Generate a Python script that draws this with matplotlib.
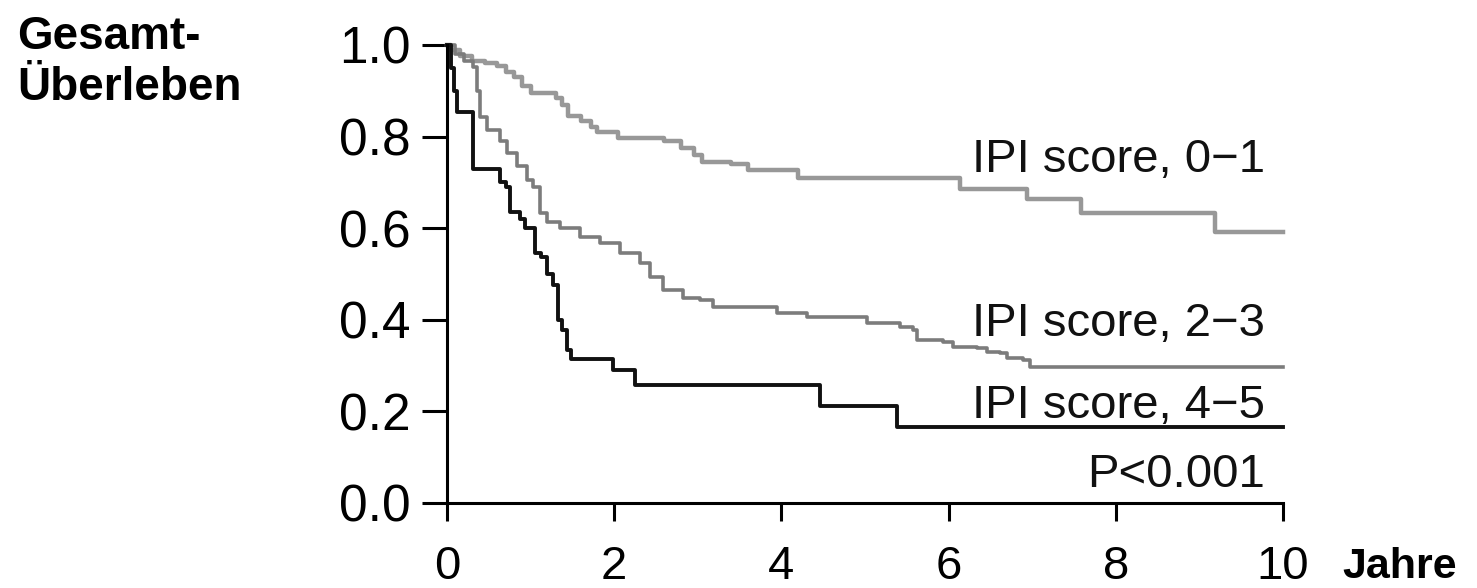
# -*- coding: utf-8 -*-
"""
Kaplan-Meier style overall survival by IPI score.
"""

import matplotlib
matplotlib.use('Agg')
import matplotlib.pyplot as plt

plt.rcParams['font.family'] = ['Liberation Sans', 'DejaVu Sans']

## Curve data (years, survival fraction)
time_01 = [0, 0.05, 0.15, 0.3, 0.45, 0.6, 0.7, 0.8, 0.9, 1.0, 1.3, 1.38, 1.45,
           1.6, 1.72, 1.8, 2.05, 2.6, 2.8, 2.95, 3.05, 3.4, 3.6, 4.2, 6.14,
           6.94, 7.58, 9.19, 10.0]
surv_01 = [1.0, 0.99, 0.975, 0.965, 0.96, 0.955, 0.94, 0.93, 0.91, 0.895,
           0.885, 0.87, 0.845, 0.835, 0.82, 0.81, 0.797, 0.79, 0.775, 0.76,
           0.745, 0.74, 0.727, 0.71, 0.686, 0.664, 0.633, 0.592, 0.592]

time_23 = [0, 0.1, 0.2, 0.31, 0.36, 0.39, 0.48, 0.63, 0.72, 0.84, 0.96, 1.03,
           1.11, 1.2, 1.35, 1.59, 1.83, 2.07, 2.31, 2.43, 2.58, 2.82, 3.03,
           3.18, 3.95, 4.31, 5.02, 5.42, 5.57, 5.62, 5.93, 6.05, 6.34, 6.46,
           6.61, 6.7, 6.89, 6.97, 10.0]
surv_23 = [1.0, 0.98, 0.965, 0.952, 0.9, 0.843, 0.814, 0.79, 0.765, 0.735,
           0.705, 0.69, 0.633, 0.614, 0.6, 0.58, 0.568, 0.546, 0.524, 0.493,
           0.465, 0.448, 0.443, 0.427, 0.415, 0.406, 0.393, 0.384, 0.378,
           0.356, 0.352, 0.341, 0.338, 0.33, 0.328, 0.317, 0.312, 0.296, 0.296]

time_45 = [0, 0.05, 0.08, 0.12, 0.31, 0.63, 0.7, 0.75, 0.87, 0.93, 1.05, 1.12,
           1.2, 1.27, 1.33, 1.38, 1.43, 1.48, 1.99, 2.25, 4.46, 5.38, 10.0]
surv_45 = [1.0, 0.95, 0.9, 0.854, 0.73, 0.70, 0.69, 0.635, 0.62, 0.60, 0.546,
           0.537, 0.50, 0.476, 0.40, 0.378, 0.334, 0.315, 0.29, 0.258, 0.212,
           0.165, 0.165]

# Labels next to the curves
curve_labels = ['IPI score, 0\u22121', 'IPI score, 2\u22123', 'IPI score, 4\u22125']
label_y = [0.723, 0.365, 0.186]
p_text = 'P<0.001'
x_ticks = [0, 2, 4, 6, 8, 10]
y_ticks = [0.0, 0.2, 0.4, 0.6, 0.8, 1.0]

## Create figure and axes in pixel-matched position
fig_ure = plt.figure(figsize=(14.77, 5.88), dpi=100)
ax = fig_ure.add_axes([447/1477, 1 - 503/588, 836/1477, 458/588])

ax.plot(time_01, surv_01, drawstyle='steps-post', color='#989898', linewidth=3.2,
        clip_on=False)
ax.plot(time_23, surv_23, drawstyle='steps-post', color='#7c7c7c', linewidth=2.6,
        clip_on=False)
ax.plot(time_45, surv_45, drawstyle='steps-post', color='#111111', linewidth=2.8,
        clip_on=False)

# Curve labels, right aligned
for lab, yy in zip(curve_labels, label_y):
    ax.text(9.78, yy, lab, ha='right', va='baseline', fontsize=34, color='#111111')
ax.text(9.78, 0.035, p_text, ha='right', va='baseline', fontsize=34, color='#111111')

# Axis styling
ax.set_xlim(0, 10)
ax.set_ylim(0, 1)
ax.spines['top'].set_visible(False)
ax.spines['right'].set_visible(False)
ax.spines['left'].set_linewidth(2.2)
ax.spines['bottom'].set_linewidth(2.2)
ax.set_xticks(x_ticks)
ax.set_xticklabels([str(v) for v in x_ticks])
ax.set_yticks(y_ticks)
ax.set_yticklabels(['%.1f' % v for v in y_ticks])
ax.tick_params(axis='y', length=18, width=2.2, pad=8, labelsize=37)
ax.tick_params(axis='x', length=13, width=2.2, pad=17, labelsize=34)

# Axis titles as figure text
fig_ure.text(17/1477, 1 - 15/588, 'Gesamt-\n\u00dcberleben', ha='left', va='top',
             fontsize=33, fontweight='bold')
fig_ure.text(1342/1477, 1 - 578/588, 'Jahre', ha='left', va='baseline',
             fontsize=31, fontweight='bold')

fig_ure.savefig('out.png', dpi=100)
